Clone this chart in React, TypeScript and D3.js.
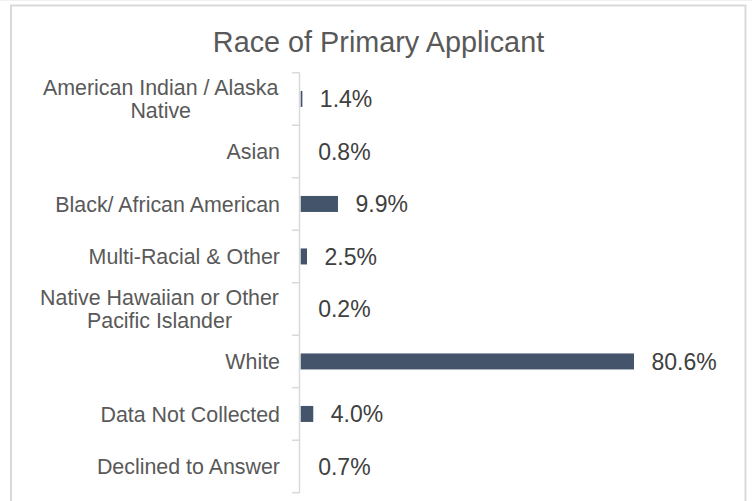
import React from "react";
import * as d3 from "d3";

const categories: string[][] = [
  ["American Indian / Alaska", "Native"],
  ["Asian"],
  ["Black/ African American"],
  ["Multi-Racial & Other"],
  ["Native Hawaiian or Other", "Pacific Islander"],
  ["White"],
  ["Data Not Collected"],
  ["Declined to Answer"],
];
const values: number[] = [0.014, 0.008, 0.099, 0.025, 0.002, 0.806, 0.04, 0.007];
const valueLabels: string[] = ["1.4%", "0.8%", "9.9%", "2.5%", "0.2%", "80.6%", "4.0%", "0.7%"];
const title = "Race of Primary Applicant";

const W = 752;
const H = 501;
const FONT = "Liberation Sans, Arial, sans-serif";

export default function App() {
  const top = 72.7;
  const bottom = 492.7;
  const axisX = 299.5;
  const keys = categories.map((_, i) => String(i));
  const y = d3.scaleBand<string>().domain(keys).range([top, bottom]).padding(0);
  const x = d3.scaleLinear().domain([0.01, 1.0]).range([300.7, 715.2]);
  const barH = 16;
  const catFs = 21.4;
  const valFs = 23;
  const lineH = 23.3;
  const ticks = d3.range(categories.length + 1).map((i) => top + i * y.bandwidth());

  return (
    <svg
      width={W}
      height={H}
      style={{ position: "absolute", left: 0, top: 0, display: "block", background: "#fff" }}
      fontFamily={FONT}
    >
      <line x1={0} x2={W} y1={0.5} y2={0.5} stroke="#f0f0f0" strokeWidth={1} />
      <rect x={11} y={5.5} width={734.5} height={H + 10} fill="#fff" stroke="#d9d9d9" strokeWidth={2} />
      <text x={378.5} y={52.3} textAnchor="middle" fontSize={28.8} fill="#595959">
        {title}
      </text>
      <line x1={axisX} x2={axisX} y1={top} y2={bottom} stroke="#d9d9d9" strokeWidth={1.5} />
      {ticks.map((t, i) => (
        <line key={"t" + i} x1={292} x2={axisX} y1={t} y2={t} stroke="#d9d9d9" strokeWidth={1.5} />
      ))}
      {categories.map((lines, i) => {
        const cy = (y(String(i)) as number) + y.bandwidth() / 2;
        const cap = catFs * 0.716;
        const n = lines.length;
        const longest = lines.reduce((a, b) => (measure(b, catFs) > measure(a, catFs) ? b : a), lines[0]);
        return (
          <g key={"c" + i}>
            {lines.map((ln, j) => {
              const by = cy + (j - (n - 1) / 2) * lineH + cap / 2;
              if (n === 1) {
                return (
                  <text key={j} x={280} y={by} textAnchor="end" fontSize={catFs} fill="#595959">
                    {ln}
                  </text>
                );
              }
              return <CenteredLine key={j} text={ln} longest={longest} right={279} y={by} fs={catFs} />;
            })}
          </g>
        );
      })}
      {values.map((v, i) => {
        const by = (y(String(i)) as number) + y.bandwidth() / 2;
        const x0 = x(0.01);
        const x1 = Math.max(x0, x(v));
        return (
          <g key={"b" + i}>
            {x1 > x0 && <rect x={x0} y={by - barH / 2} width={x1 - x0} height={barH} fill="#44546A" />}
            <text x={x1 + 17.5} y={by + (valFs * 0.716) / 2} fontSize={valFs} fill="#404040">
              {valueLabels[i]}
            </text>
          </g>
        );
      })}
    </svg>
  );
}

function measure(text: string, fs: number): number {
  if (typeof document === "undefined") return text.length * fs * 0.5;
  const c = (measure as any)._c || ((measure as any)._c = document.createElement("canvas"));
  const ctx = c.getContext("2d");
  ctx.font = `${fs}px ${FONT}`;
  return ctx.measureText(text).width;
}

function CenteredLine(props: { text: string; longest: string; right: number; y: number; fs: number }) {
  const wl = measure(props.longest, props.fs);
  const cx = props.right - wl / 2;
  return (
    <text x={cx} y={props.y} textAnchor="middle" fontSize={props.fs} fill="#595959">
      {props.text}
    </text>
  );
}
